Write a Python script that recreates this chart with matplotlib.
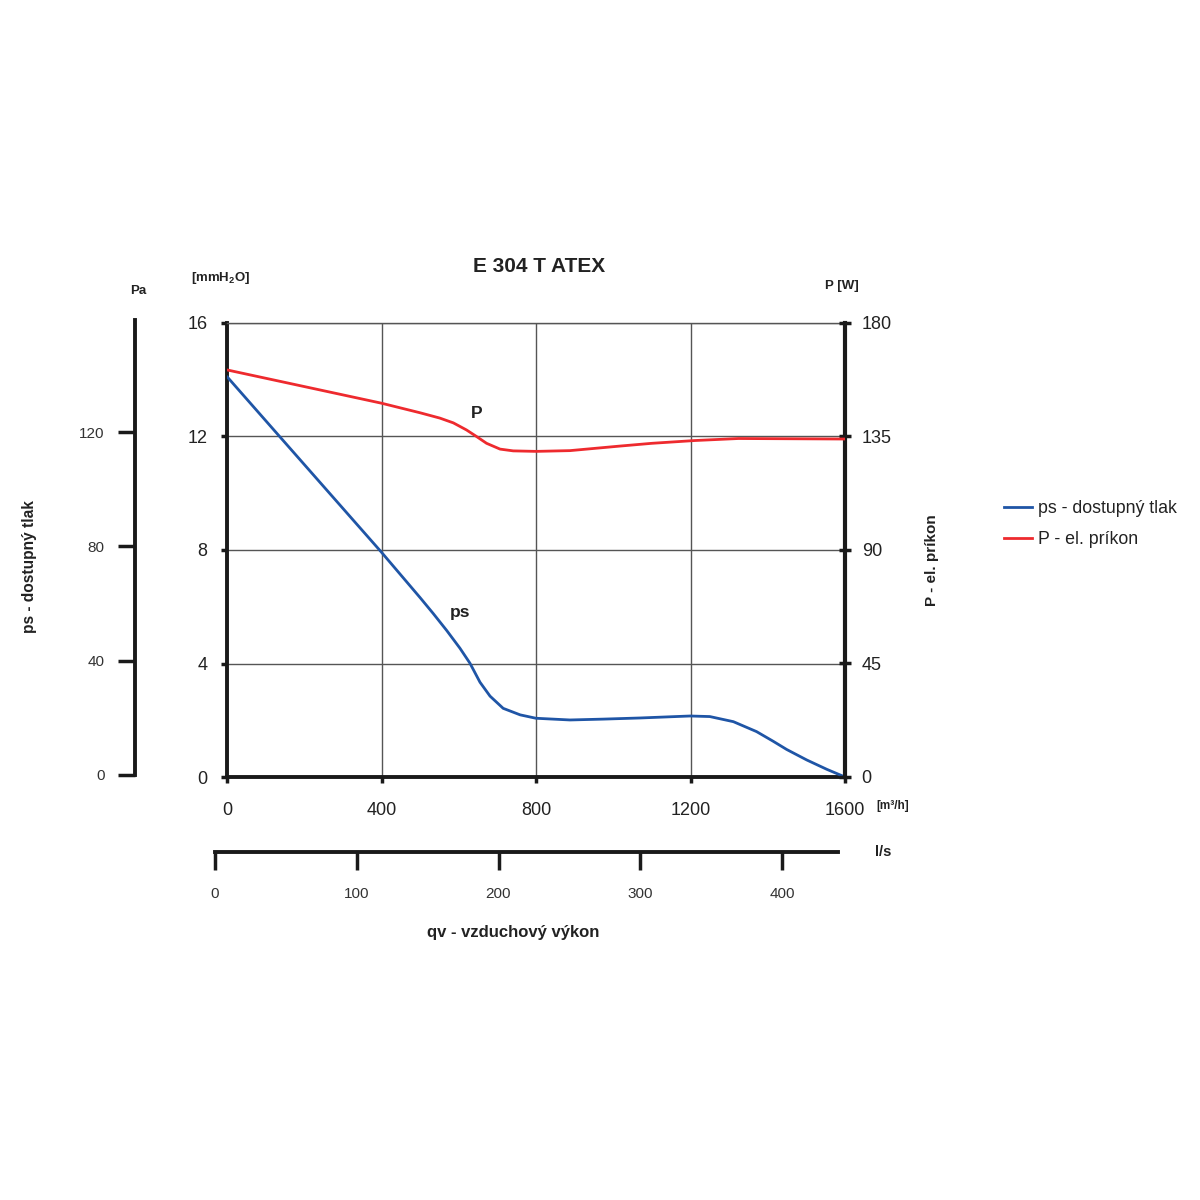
import matplotlib
matplotlib.use("Agg")
import matplotlib.pyplot as plt
from matplotlib.lines import Line2D

plt.rcParams['font.family'] = ['Liberation Sans', 'DejaVu Sans']

# ---- data ----
ps_q = [0, 133, 400, 500, 534, 569, 603, 629, 655, 681, 715, 759, 800, 888, 974, 1069,
        1199, 1250, 1311, 1371, 1414, 1449, 1501, 1553, 1600]
ps_mm = [14.11, 12.05, 7.92, 6.32, 5.76, 5.16, 4.54, 4.01, 3.34, 2.85, 2.42, 2.19, 2.07,
         2.01, 2.04, 2.08, 2.15, 2.13, 1.95, 1.60, 1.26, 0.97, 0.60, 0.27, 0.0]
p_q = [0, 400, 500, 551, 586, 620, 646, 672, 707, 741, 800, 888, 1017, 1100, 1211, 1324, 1600]
p_w = [161.4, 148.2, 144.4, 142.3, 140.4, 137.6, 135.0, 132.3, 130.0, 129.3, 129.1, 129.4,
       131.2, 132.3, 133.4, 134.2, 134.0]

x_ticks = [0, 400, 800, 1200, 1600]
mm_ticks = [0, 4, 8, 12, 16]
w_ticks = [0, 45, 90, 135, 180]
pa_ticks = [0, 40, 80, 120]
ls_ticks = [0, 100, 200, 300, 400]

BLUE = '#1f55a6'
RED = '#ee2a2e'
GRID = '#555555'
TXT = '#222222'

W = H = 1200
fig = plt.figure(figsize=(12, 12), dpi=100)

def box(x0, y0, x1, y1):
    return [x0 / W, 1 - y1 / H, (x1 - x0) / W, (y1 - y0) / H]

# ---- main axes ----
ax = fig.add_axes(box(227, 323, 845, 777))
ax.set_xlim(0, 1600)
ax.set_ylim(0, 16)
ax.set_xticks(x_ticks)
ax.set_yticks(mm_ticks)
ax.grid(True, color=GRID, lw=1.0)
ax.set_axisbelow(True)
for s in ['left', 'bottom']:
    ax.spines[s].set_linewidth(2.8)
    ax.spines[s].set_color('#1a1a1a')
ax.spines['right'].set_visible(False)
ax.spines['top'].set_color(GRID)
ax.spines['top'].set_linewidth(1.0)
ax.tick_params(axis='both', direction='out', length=4, width=2.5, color='#1a1a1a',
               labelsize=13, labelcolor=TXT)
ax.tick_params(axis='x', pad=14)
ax.tick_params(axis='y', pad=10)

ax2 = ax.twinx()
ax2.set_ylim(0, 180)
ax2.set_yticks(w_ticks)
for s in ['left', 'bottom', 'top']:
    ax2.spines[s].set_visible(False)
ax2.spines['right'].set_linewidth(3.0)
ax2.spines['right'].set_color('#1a1a1a')
ax2.tick_params(axis='y', direction='inout', length=8, width=2.5, color='#1a1a1a',
                labelsize=13, labelcolor=TXT, pad=8)

ax.plot(ps_q, ps_mm, color=BLUE, lw=2.0, solid_capstyle='round', solid_joinstyle='round', zorder=5)
ax2.plot(p_q, p_w, color=RED, lw=2.0, solid_capstyle='round', solid_joinstyle='round', zorder=5)

fig.text(460 / W, 1 - 612 / H, 'ps', fontsize=12.5, fontweight='bold', color=TXT, ha='center', va='center')
fig.text(477 / W, 1 - 413 / H, 'P', fontsize=12.5, fontweight='bold', color=TXT, ha='center', va='center')

# ---- title & unit labels ----
fig.text(539 / W, 1 - 267 / H, 'E 304 T ATEX', fontsize=15, fontweight='bold', color=TXT,
         ha='center', va='center')
fig.text(221 / W, 1 - 278 / H, r'[mmH$_\mathregular{2}$O]', fontsize=9.5, fontweight='bold',
         color=TXT, ha='center', va='center')
fig.text(842 / W, 1 - 286 / H, 'P [W]', fontsize=9.5, fontweight='bold', color=TXT,
         ha='center', va='center')
fig.text(893 / W, 1 - 806 / H, '[m³/h]', fontsize=8.5, fontweight='bold', color=TXT,
         ha='center', va='center')
fig.text(932 / W, 1 - 560 / H, 'P - el. príkon', fontsize=11, fontweight='bold', color=TXT,
         ha='center', va='center', rotation=90)

# ---- Pa axis ----
axp = fig.add_axes(box(135, 320, 136, 775))
axp.set_ylim(0, 159.2)
axp.set_xticks([])
axp.set_yticks(pa_ticks)
for s in ['right', 'bottom', 'top']:
    axp.spines[s].set_visible(False)
axp.spines['left'].set_linewidth(2.8)
axp.spines['left'].set_color('#1a1a1a')
axp.tick_params(axis='y', direction='out', length=12, width=2.5, color='#1a1a1a',
                labelsize=11, labelcolor='#333333', pad=10)
axp.patch.set_visible(False)
fig.text(138 / W, 1 - 291 / H, 'Pa', fontsize=9.5, fontweight='bold', color=TXT,
         ha='center', va='center')
fig.text(30 / W, 1 - 567 / H, 'ps - dostupný tlak', fontsize=11.2, fontweight='bold', color=TXT,
         ha='center', va='center', rotation=90)

# ---- l/s axis ----
axl = fig.add_axes(box(215, 851, 838, 852))
axl.set_xlim(0, (838 - 215) / 1.4175)
axl.set_yticks([])
axl.set_xticks(ls_ticks)
for s in ['left', 'right', 'top']:
    axl.spines[s].set_visible(False)
axl.spines['bottom'].set_linewidth(2.8)
axl.spines['bottom'].set_color('#1a1a1a')
axl.tick_params(axis='x', direction='out', length=13, width=2.5, color='#1a1a1a',
                labelsize=11, labelcolor='#333333', pad=12)
axl.patch.set_visible(False)
fig.text(883 / W, 1 - 852 / H, 'l/s', fontsize=10.5, fontweight='bold', color=TXT,
         ha='center', va='center')
fig.text(513 / W, 1 - 932 / H, 'qv - vzduchový výkon', fontsize=12, fontweight='bold', color=TXT,
         ha='center', va='center')

# ---- legend ----
handles = [Line2D([], [], color=BLUE, lw=2.0), Line2D([], [], color=RED, lw=2.0)]
fig.legend(handles, ['ps - dostupný tlak', 'P - el. príkon'],
           loc='upper left', bbox_to_anchor=(988 / W, 1 - 484 / H), frameon=False,
           fontsize=12.8, handlelength=1.6, handletextpad=0.3, labelspacing=0.8,
           labelcolor=TXT)

fig.savefig('out.png', dpi=100, facecolor='white')
